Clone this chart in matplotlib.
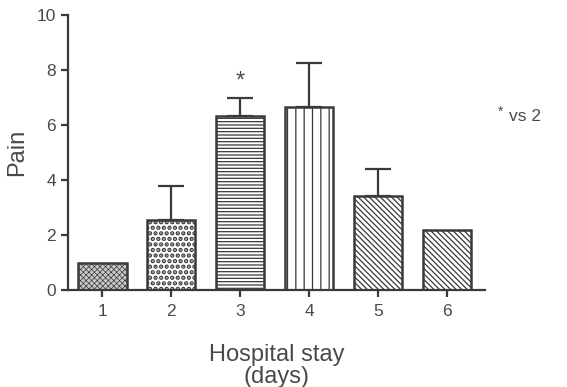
import matplotlib.pyplot as plt
import numpy as np

plt.rcParams['font.family'] = ['Liberation Sans', 'DejaVu Sans']

days = [1, 2, 3, 4, 5, 6]
pain = [1.0, 2.55, 6.35, 6.65, 3.42, 2.2]
err = [0.0, 1.23, 0.65, 1.6, 1.0, 0.0]
hatches = ['xxxxxx', '...', '-----', '||', '\\\\\\\\\\\\', '\\\\\\\\\\\\']
fills = ['#c8c8c8', 'white', 'white', 'white', 'white', 'white']
hatch_lw = [0.5, 2.2, 0.9, 0.9, 0.9, 0.9]

dark = '#3a3a3a'
txt = '#4a4a4a'
plt.rcParams['hatch.color'] = dark

fig = plt.figure(figsize=(5.67, 3.87), dpi=100)
ax = fig.add_axes([0.12, 0.2506, 0.735, 0.71])

x = np.array(days)
for i in range(len(days)):
    with plt.rc_context({'hatch.linewidth': hatch_lw[i]}):
        ax.bar(x[i], pain[i], width=0.7, color=fills[i], edgecolor=dark,
               linewidth=1.8, hatch=hatches[i], zorder=2)
    if err[i] > 0:
        ax.errorbar(x[i], pain[i], yerr=[[0], [err[i]]], fmt='none',
                    ecolor=dark, elinewidth=1.6, capsize=9.5, capthick=1.6,
                    zorder=1)

# significance marks
ax.text(3, 7.6, '*', ha='center', va='center', fontsize=17, color=txt)
fig.text(0.878, 0.712, '*', ha='left', va='center', fontsize=10, color=txt)
fig.text(0.897, 0.70, 'vs 2', ha='left', va='center', fontsize=12.5, color=txt)

ax.set_xlim(0.5, 6.55)
ax.set_ylim(0, 10)
ax.set_xticks(days)
ax.set_yticks([0, 2, 4, 6, 8, 10])
for s in ['top', 'right']:
    ax.spines[s].set_visible(False)
for s in ['left', 'bottom']:
    ax.spines[s].set_color(dark)
    ax.spines[s].set_linewidth(1.6)
ax.tick_params(colors=dark, width=1.6, length=5, labelsize=12.5, labelcolor=txt)
ax.tick_params(axis='x', pad=5)
ax.set_ylabel('Pain', fontsize=17, color=txt, labelpad=6)
ax.set_xlabel('Hospital stay\n(days)', fontsize=17, color=txt, labelpad=18,
              linespacing=1.0)

plt.savefig('out.png')
plt.close()
